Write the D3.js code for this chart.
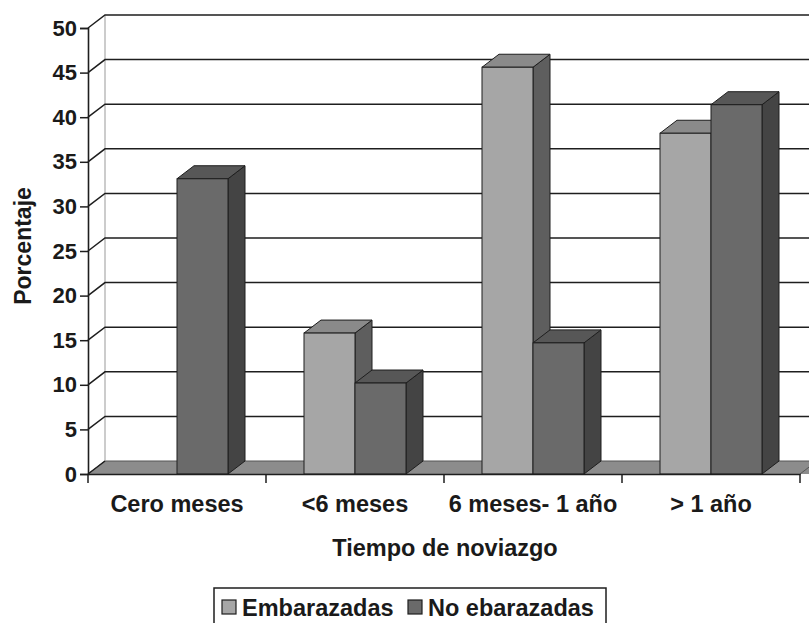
<!DOCTYPE html>
<html>
<head>
<meta charset="utf-8">
<script src="https://cdn.jsdelivr.net/npm/d3@7"></script>
<style>
  html, body { margin: 0; padding: 0; background: #fff; }
  svg { display: block; font-family: "Liberation Sans", Arial, sans-serif; font-weight: bold; }
</style>
</head>
<body>
<svg id="chart" width="809" height="623"></svg>
<script>
// Tiempo de noviazgo vs. porcentaje, 3D column chart
const categories = ["Cero meses", "<6 meses", "6 meses- 1 año", "> 1 año"];
const seriesNames = ["Embarazadas", "No ebarazadas"];
const embarazadas = [0, 15.8, 45.6, 38.2];
const noEmbarazadas = [33.1, 10.2, 14.7, 41.4];
const yTicks = [0, 5, 10, 15, 20, 25, 30, 35, 40, 45, 50];

const svg = d3.select("#chart");
const W = 809, H = 623;

// plot frame (front plane) and 3D depth offset
const plotL = 88, plotR = 800, plotB = 474, plotT = 28;
const dx = 17, dy = -13;

const y = d3.scaleLinear().domain([0, 50]).range([plotB, plotT]);
const x0 = d3.scaleBand().domain(categories).range([plotL, plotR]).paddingInner(0).paddingOuter(0);
const x1 = d3.scaleBand().domain(seriesNames).range([0, x0.bandwidth()]).paddingInner(0).paddingOuter(0.745);

const colors = {
  "Embarazadas":   { front: "#a6a6a6", top: "#8a8a8a", side: "#5e5e5e" },
  "No ebarazadas": { front: "#6a6a6a", top: "#575757", side: "#444444" }
};
const ink = "#1e1e1e";

// floor
svg.append("path")
  .attr("d", `M${plotL},${plotB} L${plotL + dx},${plotB + dy} L${plotR + dx + 40},${plotB + dy} L${plotR + 40},${plotB} Z`)
  .attr("fill", "#8c8c8c").attr("stroke", "none");
svg.append("path")
  .attr("d", `M${plotL},${plotB} L${plotL + dx},${plotB + dy} L${plotR + dx + 40},${plotB + dy}`)
  .attr("fill", "none").attr("stroke", "#555").attr("stroke-width", 1);
svg.append("path")
  .attr("d", `M${plotR},${plotB} L${plotR + dx},${plotB + dy}`)
  .attr("fill", "none").attr("stroke", "#555").attr("stroke-width", 1);

// back wall left edge
svg.append("line")
  .attr("x1", plotL + dx).attr("x2", plotL + dx)
  .attr("y1", y(50) + dy).attr("y2", y(0) + dy)
  .attr("stroke", "#999").attr("stroke-width", 1);

// gridlines: side-wall diagonal + back-wall horizontal
const grid = svg.append("g").attr("class", "grid");
yTicks.filter(t => t > 0).forEach(t => {
  grid.append("path")
    .attr("d", `M${plotL},${y(t)} L${plotL + dx},${y(t) + dy} L${W + 20},${y(t) + dy}`)
    .attr("fill", "none").attr("stroke", ink).attr("stroke-width", 1.5);
});
grid.append("path")
  .attr("d", `M${plotL},${y(0)} L${plotL + dx},${y(0) + dy}`)
  .attr("fill", "none").attr("stroke", ink).attr("stroke-width", 1.5);

// bars (each bar: front, top and right side faces)
const rows = categories.map((c, i) => ({ cat: c, values: [
  { key: seriesNames[0], v: embarazadas[i] },
  { key: seriesNames[1], v: noEmbarazadas[i] }
]}));

const groups = svg.append("g").selectAll("g").data(rows).join("g")
  .attr("transform", d => `translate(${x0(d.cat)},0)`);

const bars = groups.selectAll("g").data(d => d.values).join("g");
const bw = x1.bandwidth();

bars.each(function(d) {
  const g = d3.select(this);
  const bx = x1(d.key);
  const yt = y(d.v), yb = y(0);
  const c = colors[d.key];
  if (d.v <= 0) return;
  // right side face
  g.append("path")
    .attr("d", `M${bx + bw},${yb} L${bx + bw + dx},${yb + dy} L${bx + bw + dx},${yt + dy} L${bx + bw},${yt} Z`)
    .attr("fill", c.side).attr("stroke", ink).attr("stroke-width", 1).attr("stroke-linejoin", "round");
  // top face
  g.append("path")
    .attr("d", `M${bx},${yt} L${bx + dx},${yt + dy} L${bx + bw + dx},${yt + dy} L${bx + bw},${yt} Z`)
    .attr("fill", c.top).attr("stroke", ink).attr("stroke-width", 1).attr("stroke-linejoin", "round");
  // front face
  g.append("rect")
    .attr("x", bx).attr("y", yt).attr("width", bw).attr("height", yb - yt)
    .attr("fill", c.front).attr("stroke", ink).attr("stroke-width", 1);
});

const font = "'Liberation Sans', Arial, sans-serif";

// value axis
const yAxis = svg.append("g")
  .attr("transform", `translate(${plotL},0)`)
  .call(d3.axisLeft(y).tickValues(yTicks).tickSize(8).tickPadding(3).tickFormat(d3.format("d")));
yAxis.select(".domain").attr("stroke", ink).attr("stroke-width", 1.6);
yAxis.selectAll(".tick line").attr("stroke", ink).attr("stroke-width", 1.5);
yAxis.selectAll(".tick text")
  .attr("fill", "#1a1a1a").attr("font-size", 22).attr("font-weight", "bold")
  .attr("font-family", font);

// category axis: labels at band centres, ticks at band boundaries
const xAxis = svg.append("g")
  .attr("transform", `translate(0,${plotB})`)
  .call(d3.axisBottom(x0).tickSize(0).tickPadding(21).tickSizeOuter(0));
xAxis.select(".domain").attr("stroke", ink).attr("stroke-width", 1.6);
xAxis.selectAll(".tick text")
  .attr("fill", "#1a1a1a").attr("font-size", 23.5).attr("font-weight", "bold")
  .attr("font-family", font);
const bounds = categories.map(c => x0(c)).concat([x0.range()[1]]);
xAxis.selectAll("line.bound").data(bounds).join("line")
  .attr("class", "bound")
  .attr("x1", d => d).attr("x2", d => d)
  .attr("y1", 0).attr("y2", 9)
  .attr("stroke", ink).attr("stroke-width", 1.5);

// axis titles
svg.append("text")
  .attr("x", 445).attr("y", 556)
  .attr("text-anchor", "middle").attr("font-size", 23.5).attr("fill", "#1a1a1a")
  .text("Tiempo de noviazgo");
svg.append("text")
  .attr("transform", "translate(31,246) rotate(-90)")
  .attr("text-anchor", "middle").attr("font-size", 23).attr("fill", "#1a1a1a")
  .text("Porcentaje");

// legend
const legend = svg.append("g");
legend.append("rect")
  .attr("x", 214).attr("y", 588).attr("width", 392).attr("height", 50)
  .attr("fill", "#fff").attr("stroke", ink).attr("stroke-width", 1.5);
const legendItems = [
  { name: seriesNames[0], x: 222, color: colors["Embarazadas"].front },
  { name: seriesNames[1], x: 408, color: colors["No ebarazadas"].front }
];
legendItems.forEach(it => {
  legend.append("rect")
    .attr("x", it.x).attr("y", 600).attr("width", 14).attr("height", 14)
    .attr("fill", it.color).attr("stroke", ink).attr("stroke-width", 1.2);
  legend.append("text")
    .attr("x", it.x + 20).attr("y", 616)
    .attr("font-size", 23.5).attr("fill", "#1a1a1a")
    .text(it.name);
});
</script>
</body>
</html>
